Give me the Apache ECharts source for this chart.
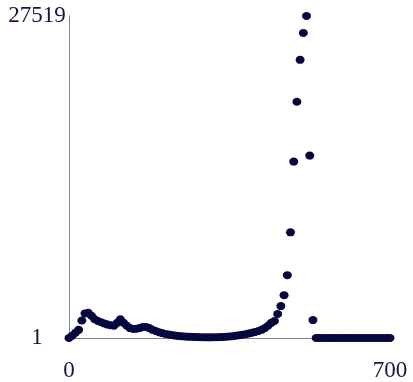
<!DOCTYPE html>
<html>
<head>
<meta charset="utf-8">
<script src="https://cdn.jsdelivr.net/npm/echarts@6/dist/echarts.min.js"></script>
<style>
  html, body { margin: 0; padding: 0; background: #fff; }
  #chart { width: 413px; height: 382px; }
</style>
</head>
<body>
<div id="chart"></div>
<script>
// x step between points
const step = 7;
// y values, one per step of 7 on the x axis (0 .. 700)
const values = [
  1, 200, 450, 700, 1500, 2100, 2150, 1900, 1600, 1450,
  1350, 1250, 1150, 1100, 1050, 1300, 1600, 1300, 1050, 850,
  780, 800, 850, 950, 950, 850, 700, 600, 500, 420,
  350, 300, 250, 210, 180, 150, 130, 110, 100, 90,
  80, 70, 65, 60, 60, 65, 70, 80, 90, 110,
  130, 160, 200, 240, 280, 330, 390, 450, 520, 600,
  700, 850, 1050, 1300, 1450, 2050, 2730, 3660, 5370, 9030,
  15080, 20190, 23770, 26070, 27519, 15590, 1530, 1, 1, 1,
  1, 1, 1, 1, 1, 1, 1, 1, 1, 1,
  1, 1, 1, 1, 1, 1, 1, 1, 1, 1,
  1
];
const xTicks = [0, 700];
const yTicks = [1, 27519];

const points = values.map((v, i) => [i * step, v]);

const labelStyle = {
  color: "#16163f",
  fontFamily: "Liberation Serif",
  fontSize: 23,
  formatter: v => String(v)
};

const chartDom = echarts.init(document.getElementById("chart"));
chartDom.setOption({
  animation: false,
  grid: {
    left: 69,
    right: 23,
    top: 16,
    bottom: 43
  },
  xAxis: {
    type: "value",
    min: 0,
    max: 700,
    splitLine: { show: false },
    axisTick: { show: false },
    axisLine: { lineStyle: { color: "#8585a3", width: 1 } },
    axisLabel: Object.assign({ customValues: xTicks, margin: 21 }, labelStyle)
  },
  yAxis: {
    type: "value",
    min: 1,
    max: 27519,
    splitLine: { show: false },
    axisTick: { show: false },
    axisLine: { show: true, lineStyle: { color: "#8585a3", width: 1 } },
    axisLabel: Object.assign(
      { customValues: yTicks, margin: 32, align: "center" },
      labelStyle
    )
  },
  series: [
    {
      type: "scatter",
      data: points,
      symbol: "circle",
      symbolSize: [9, 8],
      itemStyle: { color: "#07073f", opacity: 1 }
    }
  ]
});
</script>
</body>
</html>
